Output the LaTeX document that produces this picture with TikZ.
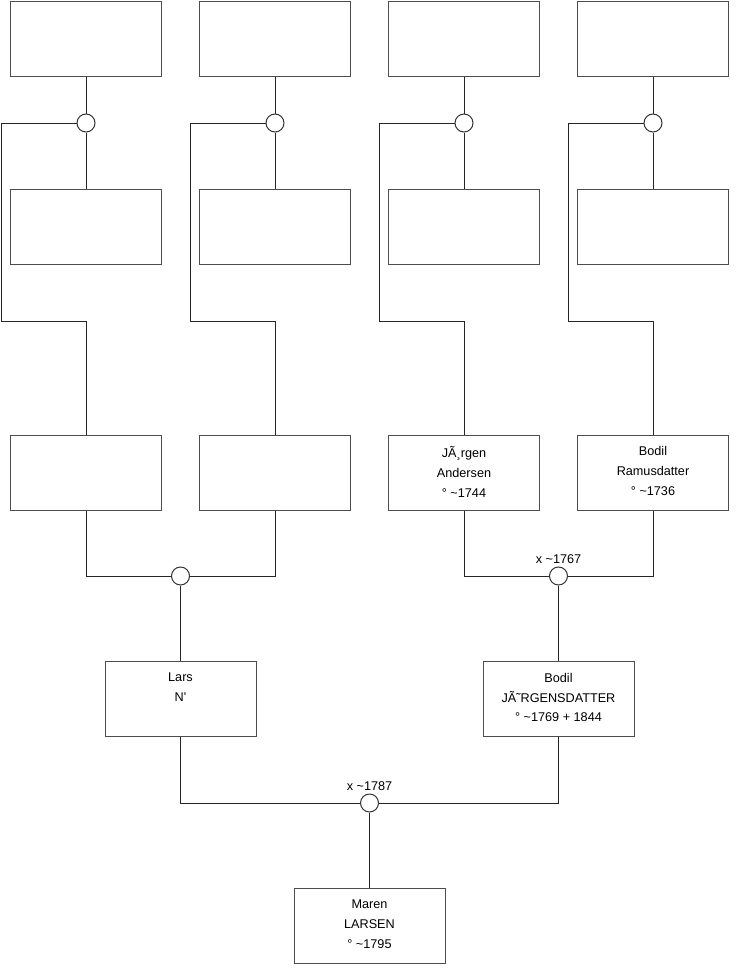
\documentclass[tikz,border=0pt]{standalone}
\usepackage{fontspec}
\setmainfont{Liberation Sans}
\usetikzlibrary{positioning}
\tikzset{
	person/.style={rectangle, draw=black!70, line width=0.75pt, minimum width=113.25pt, minimum height=56.25pt, fill=white},
	ptext/.style ={anchor=north, align=center, inner sep=0pt, yshift=-9pt, font=\fontsize{9.5pt}{14.8pt}\selectfont},
	union/.style ={circle, draw=black!80, line width=0.75pt, minimum size=13.5pt, inner sep=0pt, fill=white},
	utext/.style ={above=2pt, inner sep=0pt, font=\fontsize{9.5pt}{11pt}\selectfont},
	link/.style  ={draw=black!85, line width=0.75pt},
}
\begin{document}
\begin{tikzpicture}[x=0.75pt, y=-0.75pt]
	\useasboundingbox (0,0) rectangle (740,975);
	% great-grandparents
	\node[person] (f1) at (86,38.5) {};
	\node[person] (f2) at (275,38.5) {};
	\node[person] (f3) at (464,38.5) {};
	\node[person] (f4) at (653,38.5) {};
	\node[person] (m1) at (86,227) {};
	\node[person] (m2) at (275,227) {};
	\node[person] (m3) at (464,227) {};
	\node[person] (m4) at (653,227) {};
	\node[union] (c1) at (86,123) {};
	\node[union] (c2) at (275,123) {};
	\node[union] (c3) at (464,123) {};
	\node[union] (c4) at (653,123) {};
	% grandparents
	\node[person] (g1) at (86,472.5) {};
	\node[person] (g2) at (275,472.5) {};
	\node[person, label={[ptext]north:J\char"00C3\char"00B8rgen\\Andersen\\° \textasciitilde1744}] (g3) at (464,472.5) {};
	\node[person, label={[ptext]north:Bodil\\Ramusdatter\\° \textasciitilde1736}] (g4) at (653,472.5) {};
	% feeder corners
	\coordinate (k1) at (1,321);
	\coordinate (k2) at (190,321);
	\coordinate (k3) at (379,321);
	\coordinate (k4) at (568,321);
	\foreach \i in {1,2,3,4}{
		\draw[link] (f\i) -- (c\i);
		\draw[link] (c\i) -- (m\i);
		\draw[link] (c\i.west) -| (k\i) -| (g\i.north);
	}
	% parents
	\node[union] (u12) at (180.5,576) {};
	\node[union] (u34) at (558.5,576) {};
	\node[utext] at (u34.north) {x \textasciitilde1767};
	\draw[link] (g1.south) |- (u12.west);
	\draw[link] (g2.south) |- (u12.east);
	\draw[link] (g3.south) |- (u34.west);
	\draw[link] (g4.south) |- (u34.east);
	\node[person, label={[ptext]north:Lars\\N\textquotesingle}] (lars) at (180.5,699) {};
	\node[person, label={[ptext]north:Bodil\\J\char"00C3\char"02DCRGENSDATTER\\° \textasciitilde1769 + 1844}] (bodil) at (558.5,699) {};
	\draw[link] (u12) -- (lars);
	\draw[link] (u34) -- (bodil);
	% child
	\node[union] (u0) at (369.5,803) {};
	\node[utext] at (u0.north) {x \textasciitilde1787};
	\draw[link] (lars.south) |- (u0.west);
	\draw[link] (bodil.south) |- (u0.east);
	\node[person, label={[ptext]north:Maren\\LARSEN\\° \textasciitilde1795}] (maren) at (369.5,926) {};
	\draw[link] (u0) -- (maren);
\end{tikzpicture}
\end{document}
